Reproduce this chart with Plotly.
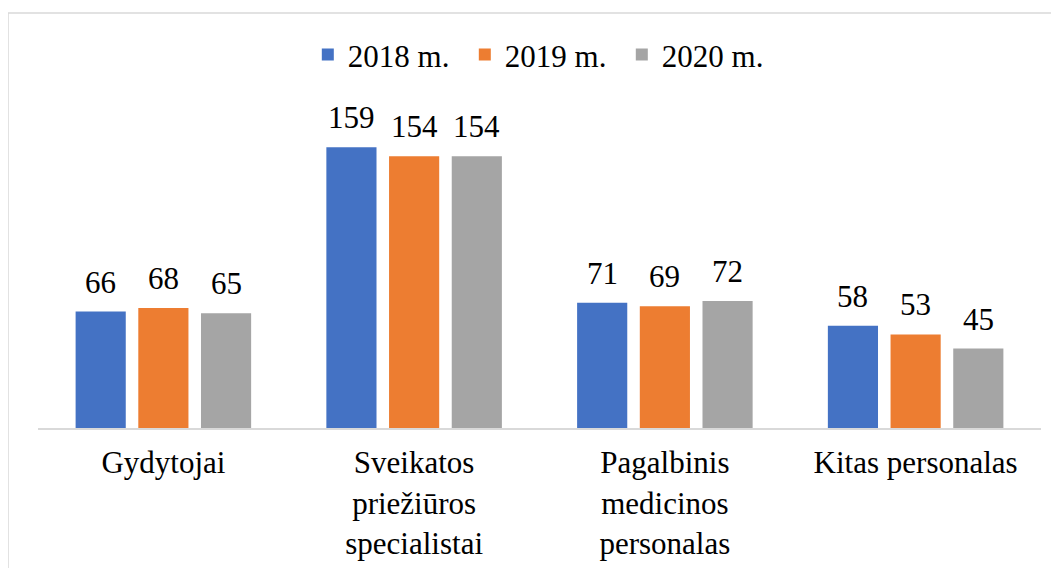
import plotly.graph_objects as go

# Data
categories = ['Gydytojai', 'Sveikatos<br>priežiūros<br>specialistai',
              'Pagalbinis<br>medicinos<br>personalas', 'Kitas personalas']
y2018 = [66, 159, 71, 58]
y2019 = [68, 154, 69, 53]
y2020 = [65, 154, 72, 45]
series_names = ['2018 m.', '2019 m.', '2020 m.']
colors = ['#4472C4', '#ED7D31', '#A5A5A5']

font = dict(family='Liberation Serif', size=31, color='#000000')

fig = go.Figure()
series = [y2018, y2019, y2020]
for i, (name, vals, col) in enumerate(zip(series_names, series, colors)):
    fig.add_trace(go.Bar(
        x=categories, y=vals, name=name,
        marker=dict(color=col, line=dict(width=0)),
    ))
    # value labels above each bar
    for cat, v in zip(categories, vals):
        fig.add_annotation(x=cat, y=v, text=str(v), showarrow=False,
                           xanchor='center', yanchor='bottom',
                           xshift=(i - 1) * 62.7, yshift=10, font=font)

# page body has an 8px margin, so everything is shifted up/left by 8px
fig.update_layout(
    width=1059, height=568,
    margin=dict(l=30, r=26, t=67, b=148, autoexpand=False),
    paper_bgcolor='white', plot_bgcolor='white',
    font=font,
    barmode='group', bargap=0.25, bargroupgap=0.2,
    legend=dict(orientation='h', x=0.269, xanchor='left', y=1.057, yanchor='middle',
                font=font, traceorder='normal',
                entrywidth=112, entrywidthmode='pixels'),
    xaxis=dict(showline=True, linecolor='#D9D9D9', linewidth=2, ticks='',
               showgrid=False, automargin=False, tickfont=font,
               ticklabelstandoff=6),
    yaxis=dict(visible=False, range=[0, 200], showgrid=False, automargin=False),
    shapes=[dict(type='rect', xref='paper', yref='paper',
                 x0=-0.0299, x1=1.2, y0=-1, y1=1.1756,
                 line=dict(color='#D9D9D9', width=1.5), layer='below')],
)

fig.write_html('out.html')
